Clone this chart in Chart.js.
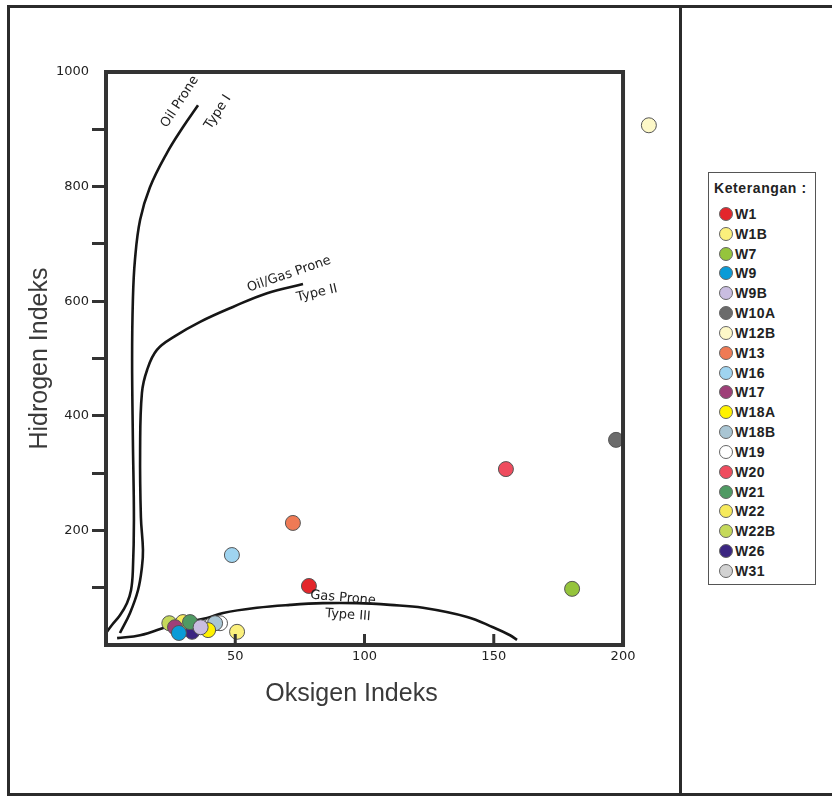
<!DOCTYPE html>
<html>
<head>
<meta charset="utf-8">
<script src="https://cdn.jsdelivr.net/npm/chart.js@4.4.1/dist/chart.umd.min.js"></script>
<style>
  body { margin: 0; background: #fff; width: 832px; height: 798px; position: relative; overflow: hidden; font-family: "Liberation Sans", Arial, sans-serif; }
  #frame { position: absolute; left: 7px; top: 5px; width: 840px; height: 791px; border: 3px solid #2b2b2b; box-sizing: border-box; }
  #divider { position: absolute; left: 679px; top: 5px; width: 3px; height: 791px; background: #2b2b2b; }
  #chartBox { position: absolute; left: 0; top: 0; }
  #legend { position: absolute; left: 708px; top: 172px; width: 108px; height: 413px; border: 1.5px solid #555; box-sizing: border-box; background: #fff; }
  #legend .title { position: absolute; left: 5px; top: 7px; font-size: 14px; letter-spacing: 0.6px; font-weight: bold; color: #222; white-space: nowrap; }
  #legend .row { position: absolute; left: 10px; height: 20px; line-height: 20px; font-size: 14px; letter-spacing: 0.4px; font-weight: bold; color: #222; white-space: nowrap; }
  #legend .dot { position: absolute; left: 0; top: 3px; width: 12px; height: 12px; border-radius: 50%; border: 1px solid #666; }
  #legend .name { position: absolute; left: 16px; top: 0; }
</style>
</head>
<body>
<div id="frame"></div>
<div id="divider"></div>
<div id="chartBox"><canvas id="hiOiChart" width="680" height="798"></canvas></div>
<div id="legend"></div>

<script>
// Wells (legend order)
const wellNames = ["W1", "W1B", "W7", "W9", "W9B", "W10A", "W12B", "W13", "W16", "W17",
  "W18A", "W18B", "W19", "W20", "W21", "W22", "W22B", "W26", "W31"];
const wellColors = ["#e3262b", "#fbf07c", "#95c43c", "#0a9bd7", "#c9bde0", "#6b6b6b", "#fdf8c8", "#ef7a55", "#9fd4f0", "#9e3f78",
  "#fff200", "#a9c5d3", "#ffffff", "#ef4c5e", "#4f9a63", "#f6ea5c", "#c5d95a", "#3b2581", "#d2d2d2"];
const oxygenIndex = [78.5, 50.7, 180.3, 28.2, 36.6, 197.3, 210, 72.3, 48.7, 26.7,
  39.5, 42.2, 44.1, 154.7, 32.5, 29.8, 24.5, 33.3, 40.5];
const hydrogenIndex = [103, 23, 98, 21, 31, 358, 907, 213, 157, 31,
  26, 38, 38, 307, 40, 40, 38, 23, 34];

// Kerogen type boundary curves
const typeIOI = [0, 2.3, 5.4, 8.1, 9.7, 10.4, 10.8, 10.4, 10.1, 10.4, 11.2, 13.2, 17.0, 23.6, 29.8, 35.6];
const typeIHI = [21, 35, 52, 73, 96, 131, 218, 358, 497, 602, 672, 742, 799, 859, 904, 942];
const typeIIOI = [5.4, 9.3, 12.4, 13.9, 14.3, 13.5, 13.2, 13.9, 15.9, 19.7, 26.7, 36.4, 49.1, 62.3, 76.2];
const typeIIHI = [21, 56, 96, 136, 166, 223, 340, 440, 480, 515, 539, 564, 590, 614, 630];
const typeIIIOI = [4.3, 13.2, 25.9, 39.1, 45.3, 58.4, 71.2, 83.9, 97.1, 109.9, 122.6, 139.7, 149.7, 156.3, 159];
const typeIIIHI = [12, 17, 35, 47, 56, 65, 70, 73, 73, 70, 65, 49, 31, 17, 9];

const xAxisMax = 200;
const xTickMarks = [50, 100, 150, 200];

// curve captions (data coords + rotation in degrees)
const curveLabels = [
  { text: "Oil Prone", x: 28.6, y: 948, angle: -57 },
  { text: "Type I", x: 43.3, y: 930, angle: -57 },
  { text: "Oil/Gas Prone", x: 70.8, y: 647, angle: -19 },
  { text: "Type II", x: 81.6, y: 614, angle: -13 },
  { text: "Gas Prone", x: 91.7, y: 82, angle: 5 },
  { text: "Type III", x: 93.6, y: 52, angle: 4 }
];

function toPoints(xs, ys) {
  return xs.map((x, i) => ({ x: x, y: ys[i] }));
}

function curveDataset(xs, ys) {
  return {
    data: toPoints(xs, ys),
    showLine: true,
    borderColor: "#161616",
    borderWidth: 2.6,
    pointRadius: 0,
    tension: 0.4,
    fill: false,
    order: 1
  };
}

// one dataset per well
const wellDatasets = wellNames.map((name, i) => ({
  label: name,
  data: [{ x: oxygenIndex[i], y: hydrogenIndex[i] }],
  backgroundColor: wellColors[i],
  borderColor: "#555",
  borderWidth: 1,
  pointRadius: 7.5,
  pointHoverRadius: 7.5,
  clip: false,
  order: 0
}));

// frame, inward x ticks, curve captions, x title
const plotDecor = {
  id: "plotDecor",
  afterDatasetsDraw(chart) {
    const { ctx, chartArea } = chart;
    const { left, top, bottom } = chartArea;
    const xs = chart.scales.x, ys = chart.scales.y;
    const right = xs.getPixelForValue(xAxisMax);
    ctx.save();
    ctx.strokeStyle = "#333";
    ctx.lineWidth = 3;
    xTickMarks.forEach(v => {
      const px = xs.getPixelForValue(v);
      ctx.beginPath();
      ctx.moveTo(px, bottom);
      ctx.lineTo(px, bottom - 11);
      ctx.stroke();
    });
    ctx.lineWidth = 4;
    ctx.strokeRect(left, top, right - left, bottom - top);

    ctx.fillStyle = "#222";
    ctx.font = "13px 'DejaVu Sans'";
    ctx.textAlign = "center";
    ctx.textBaseline = "middle";
    curveLabels.forEach(l => {
      ctx.save();
      ctx.translate(xs.getPixelForValue(l.x), ys.getPixelForValue(l.y));
      ctx.rotate(l.angle * Math.PI / 180);
      ctx.fillText(l.text, 0, 0);
      ctx.restore();
    });

    ctx.fillStyle = "#3a3a3a";
    ctx.font = "25px 'Liberation Sans'";
    ctx.fillText("Oksigen Indeks", (left + right) / 2 - 13, bottom + 49);
    ctx.restore();
  }
};

const chart = new Chart(document.getElementById("hiOiChart"), {
  type: "scatter",
  data: {
    datasets: wellDatasets.concat([
      curveDataset(typeIOI, typeIHI),
      curveDataset(typeIIOI, typeIIHI),
      curveDataset(typeIIIOI, typeIIIHI)
    ])
  },
  options: {
    responsive: false,
    animation: false,
    layout: { padding: { left: 0, top: 72, right: 18.2, bottom: 83 } },
    plugins: { legend: { display: false }, tooltip: { enabled: false } },
    scales: {
      x: {
        type: "linear",
        min: 0,
        max: 215,   // room for W12B, drawn just outside the frame
        ticks: {
          stepSize: 50,
          padding: 4,
          color: "#222",
          font: { family: "DejaVu Sans", size: 13 },
          callback: v => (v === 0 || v > xAxisMax ? "" : v)
        },
        grid: { display: false, drawTicks: false },
        border: { display: false },
        afterFit: s => { s.height = 70; }
      },
      y: {
        type: "linear",
        min: 0,
        max: 1000,
        ticks: {
          stepSize: 100,
          padding: 3,
          color: "#222",
          font: { family: "DejaVu Sans", size: 13 },
          callback: v => (v > 0 && v % 200 === 0 ? v : "")
        },
        grid: {
          drawOnChartArea: false,
          drawTicks: true,
          tickLength: 14,
          lineWidth: 3,
          color: ctx => (ctx.tick && (ctx.tick.value === 0 || ctx.tick.value === 1000) ? "rgba(0,0,0,0)" : "#333")
        },
        border: { display: false },
        title: {
          display: true,
          text: "Hidrogen Indeks",
          color: "#3a3a3a",
          font: { family: "Liberation Sans", size: 25 },
          padding: { top: 25, bottom: 0 }
        },
        afterFit: s => { s.width = 106; }
      }
    }
  },
  plugins: [plotDecor]
});

// legend box built from the same arrays
const legend = document.getElementById("legend");
const title = document.createElement("div");
title.className = "title";
title.textContent = "Keterangan :";
legend.appendChild(title);
wellNames.forEach((name, i) => {
  const row = document.createElement("div");
  row.className = "row";
  row.style.top = (31 + i * 19.83) + "px";
  row.innerHTML = `<span class="dot" style="background:${wellColors[i]}"></span><span class="name">${name}</span>`;
  legend.appendChild(row);
});
</script>
</body>
</html>
